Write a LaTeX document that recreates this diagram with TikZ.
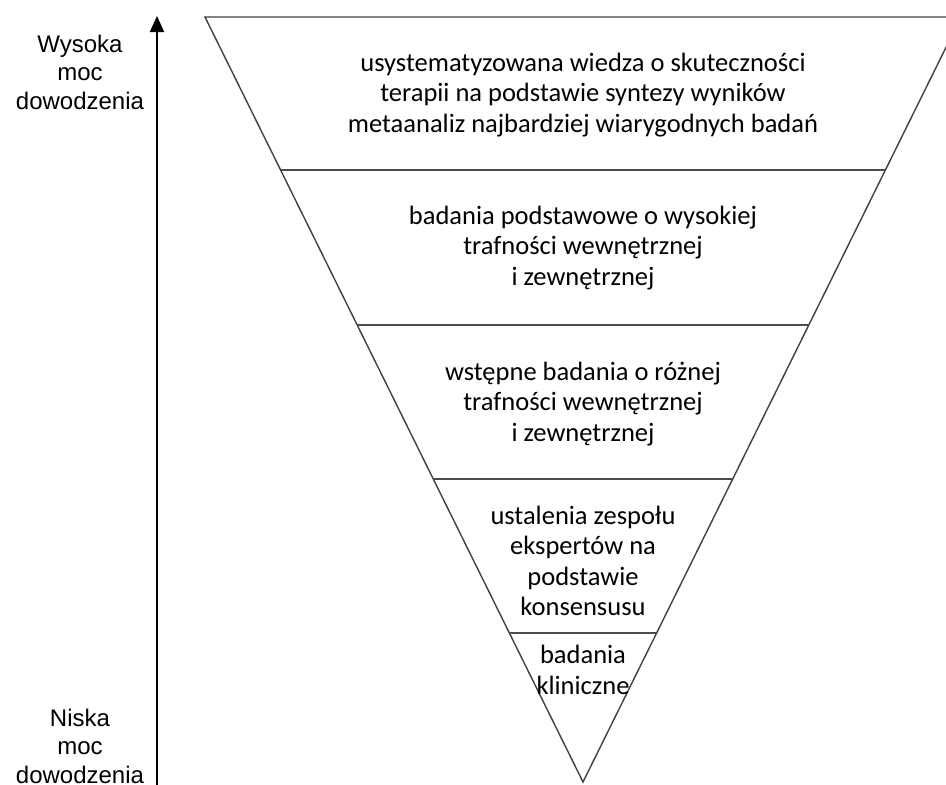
\documentclass[tikz,border=0pt]{standalone}
\usepackage{fontspec}
\setmainfont{Carlito}
\newfontfamily\arialf{Liberation Sans}
\usetikzlibrary{arrows.meta}
\begin{document}
\begin{tikzpicture}[x=1pt,y=-1pt,
  tier/.style={align=center,font=\fontsize{26.5}{30.5}\selectfont,inner sep=0pt},
  side/.style={align=center,font=\arialf\fontsize{24}{28.5}\selectfont,inner sep=0pt},
  edge/.style={draw=black!75,line width=1.4pt,line join=miter},
  sep/.style={draw=black!70,line width=1.3pt}]
\useasboundingbox (0,0) rectangle (946,785);
\begin{scope}
\clip (0,0) rectangle (946,785);
\coordinate (tl) at (205,17);
\coordinate (tr) at (961,17);
\coordinate (ap) at (583,782);
\draw[edge] (tl) -- (tr) -- (ap) -- cycle;
\foreach \y/\n in {170/a,325/b,479/c,633/d}{
  \pgfmathsetmacro\dx{0.494118*(782-\y)}
  \coordinate (l\n) at ({583-\dx},\y);
  \coordinate (r\n) at ({583+\dx},\y);
  \draw[sep] (l\n) -- (r\n);
}
\end{scope}
\node[tier] (t1) at (583,95) {usystematyzowana wiedza o skuteczności\\terapii na podstawie syntezy wyników\\metaanaliz najbardziej wiarygodnych badań};
\node[tier] (t2) at (583,248) {badania podstawowe o wysokiej\\trafności wewnętrznej\\i zewnętrznej};
\node[tier] (t3) at (583,404) {wstępne badania o różnej\\trafności wewnętrznej\\i zewnętrznej};
\node[tier] (t4) at (583,561) {ustalenia zespołu\\ekspertów na\\podstawie\\konsensusu};
\node[tier] (t5) at (583,670) {badania\\kliniczne};
\node[side] (hi) at (80,72) {Wysoka\\moc\\dowodzenia};
\node[side] (lo) at (80,746) {Niska\\moc\\dowodzenia};
\coordinate (ab) at (157,785);
\coordinate (at) at (157,16);
\draw[line width=2pt,-{Triangle[length=16pt,width=14pt]}] (ab) -- (at);
\end{tikzpicture}
\end{document}
